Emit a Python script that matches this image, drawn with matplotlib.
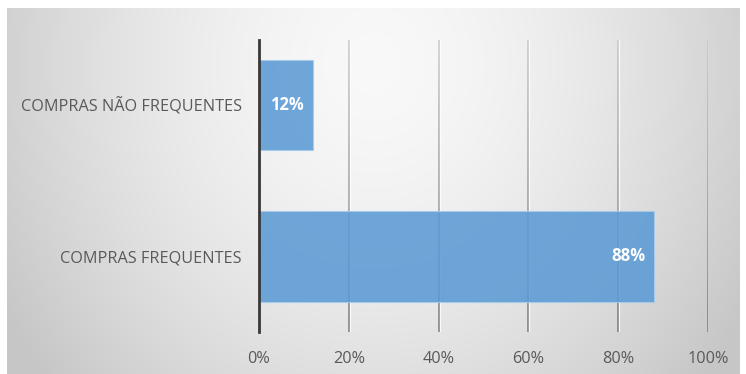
import numpy as np
import matplotlib
matplotlib.use("Agg")
import matplotlib.pyplot as plt
from matplotlib.ticker import PercentFormatter
from matplotlib.collections import LineCollection
from matplotlib.colors import to_rgb
from matplotlib.transforms import offset_copy

categories = ["COMPRAS FREQUENTES", "COMPRAS NÃO FREQUENTES"]
values = [88, 12]
ticks = [0, 20, 40, 60, 80, 100]

W, H = 746, 374
fig = plt.figure(figsize=(W / 100, H / 100), dpi=100)
fig.patch.set_facecolor("white")

# radial grey gradient panel behind the chart
bg = fig.add_axes([7 / W, 0, (740 - 7) / W, (H - 8) / H])
bg.set_axis_off()
yy, xx = np.mgrid[0:200, 0:400]
cx, cy = 200, 30
d = np.sqrt(((xx - cx) / 230.0) ** 2 + ((yy - cy) / 260.0) ** 2)
shade = np.clip(0.975 - 0.19 * d ** 1.6, 0.78, 1)
bg.imshow(np.dstack([shade] * 3), aspect="auto", extent=[0, 1, 0, 1],
          origin="upper", interpolation="bilinear")
bg.set_xlim(0, 1)
bg.set_ylim(0, 1)

ax = fig.add_axes([259 / W, 1 - 332 / H, (708 - 259) / W, (332 - 40) / H])
ax.patch.set_alpha(0)
ylo, yhi = -0.5, 1.43
ax.set_xlim(0, 100)
ax.set_ylim(ylo, yhi)

# vertical gridlines: shaded from light at the top to darker at the bottom,
# with a thin white highlight on their right side
n = 60
ys = np.linspace(ylo, yhi, n + 1)
c_top, c_bot = np.array(to_rgb("#c8c8c8")), np.array(to_rgb("#787878"))
frac = (ys[:-1] + ys[1:]) / 2
frac = (frac - ylo) / (yhi - ylo)
cols = [tuple(c_bot + (c_top - c_bot) * f) for f in frac]
hl = offset_copy(ax.transData, fig=fig, x=1.0, y=0, units="dots")
for t in ticks[1:]:
    segs = [[(t, ys[i]), (t, ys[i + 1])] for i in range(n)]
    ax.add_collection(LineCollection(segs, colors=cols, linewidths=1.1,
                                     zorder=1))
    ax.plot([t, t], [ylo, yhi], color="white", lw=0.9, alpha=0.8,
            transform=hl, zorder=1)

pos = np.arange(len(categories))
bars = ax.barh(pos, values, height=0.6, color="#5b9bd5", alpha=0.88,
               edgecolor="#a9cbec", linewidth=0.8, zorder=3)
ax.set_xticks(ticks)
ax.xaxis.set_major_formatter(PercentFormatter(decimals=0))
ax.set_yticks(pos)
ax.set_yticklabels(categories)
for s in ["top", "right", "bottom"]:
    ax.spines[s].set_visible(False)
ax.spines["left"].set_color("#383838")
ax.spines["left"].set_linewidth(2)
ax.spines["left"].set_zorder(4)
ax.tick_params(axis="both", length=0, labelsize=11.7, labelcolor="#595959")
ax.tick_params(axis="x", pad=13.5)
ax.tick_params(axis="y", pad=12.5)
for lab in ax.get_xticklabels() + ax.get_yticklabels():
    lab.set_family("Open Sans")

for b, v in zip(bars, values):
    ax.text(b.get_width() - 2, b.get_y() + b.get_height() / 2, f"{v}%",
            ha="right", va="center", color="white", fontweight="bold",
            fontsize=12, family="Open Sans", zorder=5)

fig.savefig("out.png", dpi=100)
